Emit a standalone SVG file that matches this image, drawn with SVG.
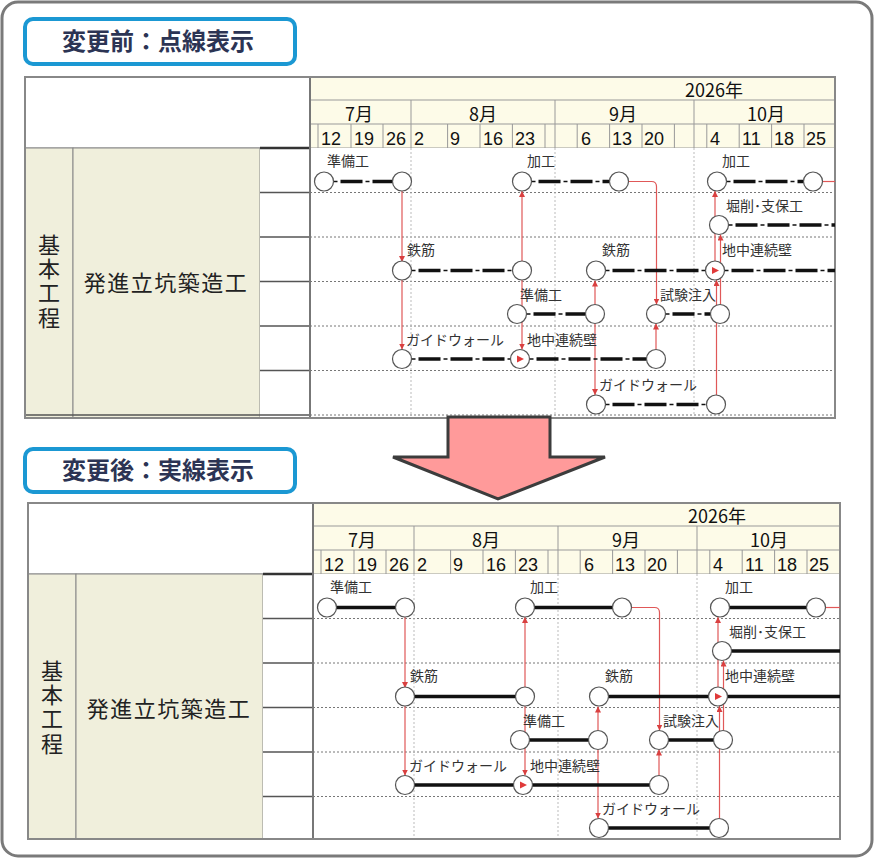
<svg xmlns="http://www.w3.org/2000/svg" width="875" height="859" viewBox="0 0 875 859">
<style>
.frame{fill:#fff;stroke:#7a7a7a;stroke-width:3}
.tag{fill:#fff;stroke:#1b98d3;stroke-width:4}
.tagtxt{font-family:"Noto Sans CJK JP","Noto Sans CJK SC",sans-serif;font-weight:bold;font-size:24px;fill:#2c3454;text-anchor:middle}
.hdr{fill:#fdfbe8;stroke:#999;stroke-width:1}
.gl{stroke:#999;stroke-width:1}
.num{font-family:"Liberation Sans",sans-serif;font-size:18px;fill:#111}
.mon{font-family:"Noto Sans CJK JP",sans-serif;font-size:18px;fill:#111;text-anchor:middle}
.side{fill:#f0efdc;stroke:#888;stroke-width:1}
.sidetxt{font-family:"Noto Sans CJK JP",sans-serif;font-size:22px;fill:#222;text-anchor:middle}
.vtxt{font-family:"Noto Sans CJK JP",sans-serif;font-size:22px;fill:#222;text-anchor:middle;writing-mode:vertical-rl;letter-spacing:2.3px}
.c3{stroke:#555;stroke-width:1.5}
.dotH{stroke:#777;stroke-width:1;stroke-dasharray:2 2}
.dotV{stroke:#bbb;stroke-width:1;stroke-dasharray:2 2}
.thk{stroke:#111;stroke-width:3.5;fill:none;stroke-dasharray:22 10;stroke-dashoffset:25}
.thn{stroke:#111;stroke-width:1.3;fill:none;stroke-dasharray:4 28}
.sol{stroke:#111;stroke-width:3.5;fill:none}
.ev{fill:#fff;stroke:#555;stroke-width:1.2}
.lbl{font-family:"Noto Sans CJK JP",sans-serif;font-size:14px;fill:#333}
.dep{stroke:#e05858;stroke-width:1.2;fill:none;marker-end:url(#ah)}
.dep0{stroke:#e05858;stroke-width:1.2;fill:none}
.tri{fill:#e03a3a}
.border{fill:none;stroke:#888;stroke-width:2}
</style>
<defs>
<marker id="ah" viewBox="0 0 10 10" refX="10" refY="5" markerWidth="6" markerHeight="6" markerUnits="userSpaceOnUse" orient="auto"><path d="M0,0 L10,5 L0,10 z" fill="#d94040"/></marker>
</defs>

<rect class="frame" x="2" y="2" width="870" height="854" rx="16"/>

<g id="tag-before">
<rect class="tag" x="25" y="19" width="270" height="45" rx="8"/>
<text class="tagtxt" x="158" y="50">変更前：点線表示</text>
</g>
<g id="tag-after">
<rect class="tag" x="25" y="449" width="270" height="43" rx="8"/>
<text class="tagtxt" x="158" y="479">変更後：実線表示</text>
</g>

<!-- ================= TOP CHART ================= -->
<g id="top-table">
<rect x="25" y="77" width="285" height="71" fill="#fff" stroke="#888"/>
<rect class="hdr" x="310" y="77" width="525" height="71"/>
<line class="gl" x1="310" y1="100" x2="835" y2="100"/>
<line class="gl" x1="310" y1="124" x2="835" y2="124"/>
<g class="gl">
<line x1="411" y1="100" x2="411" y2="148"/><line x1="555" y1="100" x2="555" y2="148"/><line x1="694" y1="100" x2="694" y2="148"/>
<line x1="318" y1="124" x2="318" y2="148"/><line x1="351" y1="124" x2="351" y2="148"/><line x1="383" y1="124" x2="383" y2="148"/>
<line x1="447.6" y1="124" x2="447.6" y2="148"/><line x1="480" y1="124" x2="480" y2="148"/><line x1="512.4" y1="124" x2="512.4" y2="148"/><line x1="545" y1="124" x2="545" y2="148"/>
<line x1="577.2" y1="124" x2="577.2" y2="148"/><line x1="609.6" y1="124" x2="609.6" y2="148"/><line x1="642" y1="124" x2="642" y2="148"/><line x1="674.4" y1="124" x2="674.4" y2="148"/>
<line x1="706.8" y1="124" x2="706.8" y2="148"/><line x1="739.2" y1="124" x2="739.2" y2="148"/><line x1="771.6" y1="124" x2="771.6" y2="148"/><line x1="804" y1="124" x2="804" y2="148"/>
</g>
<text class="mon" x="714" y="97">2026年</text>
<text class="mon" x="359" y="121">7月</text><text class="mon" x="483" y="121">8月</text><text class="mon" x="623" y="121">9月</text><text class="mon" x="766" y="121">10月</text>
<g class="num">
<text x="321" y="145">12</text><text x="354" y="145">19</text><text x="386" y="145">26</text><text x="414" y="145">2</text>
<text x="450" y="145">9</text><text x="483" y="145">16</text><text x="515" y="145">23</text><text x="581" y="145">6</text>
<text x="612" y="145">13</text><text x="644" y="145">20</text><text x="710" y="145">4</text><text x="742" y="145">11</text>
<text x="774" y="145">18</text><text x="806" y="145">25</text>
</g>
<rect class="side" x="25" y="148" width="48" height="270"/>
<rect class="side" x="73" y="148" width="187" height="270"/>
<rect x="260" y="148" width="50" height="270" fill="#fff"/>
<rect x="310" y="148" width="525" height="270" fill="#fff"/>
<g class="c3">
<line x1="260" y1="192.5" x2="310" y2="192.5"/><line x1="260" y1="237" x2="310" y2="237"/><line x1="260" y1="281.5" x2="310" y2="281.5"/>
<line x1="260" y1="326" x2="310" y2="326"/><line x1="260" y1="370.5" x2="310" y2="370.5"/><line x1="25" y1="415" x2="310" y2="415"/>
</g>
<line x1="260" y1="148" x2="310" y2="148" stroke="#333" stroke-width="2.5"/>
<g class="dotH">
<line x1="310" y1="192.5" x2="835" y2="192.5"/><line x1="310" y1="237" x2="835" y2="237"/><line x1="310" y1="281.5" x2="835" y2="281.5"/>
<line x1="310" y1="326" x2="835" y2="326"/><line x1="310" y1="370.5" x2="835" y2="370.5"/><line x1="310" y1="415" x2="835" y2="415"/>
</g>
<g class="dotV">
<line x1="411" y1="148" x2="411" y2="415"/><line x1="555" y1="148" x2="555" y2="415"/><line x1="694" y1="148" x2="694" y2="415"/>
</g>
<line x1="310" y1="77" x2="310" y2="418" stroke="#777" stroke-width="2"/>
<rect class="border" x="25" y="77" width="810" height="341"/>
<text class="vtxt" x="49" y="282">基本工程</text>
<text class="sidetxt" x="166" y="291" letter-spacing="1.5">発進立坑築造工</text>
</g>

<g id="top-connectors">
<path class="dep" d="M402,191 V262"/>
<path class="dep" d="M402,280 V349.5"/>
<path class="dep" d="M522,261 V191"/>
<path class="dep" d="M522,280 V349.5"/>
<path class="dep" d="M628.5,181.5 H651.5 Q656.5,181.5 656.5,186.5 V304.5"/>
<path class="dep" d="M656,349.5 V323.5"/>
<path class="dep" d="M595,304.5 V280.5"/>
<path class="dep" d="M595,323.5 V395"/>
<path class="dep" d="M715,261 V191"/>
<path class="dep" d="M720.5,304.5 V234.5"/>
<path class="dep" d="M716.5,395 V280"/>
<path class="dep0" d="M822.5,181.5 H835"/>
</g>

<g id="t-junbi1">
<path class="thk" d="M333.5,181.5 H392.5"/><path class="thn" d="M333.5,181.5 H392.5"/>
<circle class="ev" cx="324" cy="181.5" r="9.5"/><circle class="ev" cx="402" cy="181.5" r="9.5"/>
<text class="lbl" x="327" y="166">準備工</text>
</g>
<g id="t-kakou1">
<path class="thk" d="M531.5,181.5 H609.5"/><path class="thn" d="M531.5,181.5 H609.5"/>
<circle class="ev" cx="522" cy="181.5" r="9.5"/><circle class="ev" cx="619" cy="181.5" r="9.5"/>
<text class="lbl" x="527" y="166">加工</text>
</g>
<g id="t-kakou2">
<path class="thk" d="M726.5,181.5 H803.5"/><path class="thn" d="M726.5,181.5 H803.5"/>
<circle class="ev" cx="717" cy="181.5" r="9.5"/><circle class="ev" cx="813" cy="181.5" r="9.5"/>
<text class="lbl" x="722" y="166">加工</text>
</g>
<g id="t-kussaku">
<path class="thk" d="M728.5,225 H835"/><path class="thn" d="M728.5,225 H835"/>
<circle class="ev" cx="719" cy="225" r="9.5"/>
<text class="lbl" x="726" y="211">堀削･支保工</text>
</g>
<g id="t-tekkin1">
<path class="thk" d="M411.5,270.5 H512.5"/><path class="thn" d="M411.5,270.5 H512.5"/>
<circle class="ev" cx="402" cy="270.5" r="9.5"/><circle class="ev" cx="522" cy="270.5" r="9.5"/>
<text class="lbl" x="407" y="255">鉄筋</text>
</g>
<g id="t-tekkin2">
<path class="thk" d="M605.5,270.5 H705.5"/><path class="thn" d="M605.5,270.5 H705.5"/>
<circle class="ev" cx="596" cy="270.5" r="9.5"/>
<text class="lbl" x="602" y="255">鉄筋</text>
</g>
<g id="t-renzoku1">
<path class="thk" d="M724.5,270.5 H835"/><path class="thn" d="M724.5,270.5 H835"/>
<circle class="ev" cx="715" cy="270.5" r="9.5"/>
<path class="tri" d="M712,267 L719,270.5 L712,274 z"/>
<text class="lbl" x="722" y="255">地中連続壁</text>
</g>
<g id="t-junbi2">
<path class="thk" d="M526.5,314 H585.5"/><path class="thn" d="M526.5,314 H585.5"/>
<circle class="ev" cx="517" cy="314" r="9.5"/><circle class="ev" cx="595" cy="314" r="9.5"/>
<text class="lbl" x="520" y="300">準備工</text>
</g>
<g id="t-shiken">
<path class="thk" d="M665.5,314 H710.5"/><path class="thn" d="M665.5,314 H710.5"/>
<circle class="ev" cx="656" cy="314" r="9.5"/><circle class="ev" cx="720" cy="314" r="9.5"/>
<text class="lbl" x="660" y="300">試験注入</text>
</g>
<g id="t-guide1">
<path class="thk" d="M411.5,359 H510.5"/><path class="thn" d="M411.5,359 H510.5"/>
<circle class="ev" cx="402" cy="359" r="9.5"/>
<text class="lbl" x="406" y="345">ガイドウォール</text>
</g>
<g id="t-renzoku2">
<path class="thk" d="M529.5,359 H646.5"/><path class="thn" d="M529.5,359 H646.5"/>
<circle class="ev" cx="520" cy="359" r="9.5"/><circle class="ev" cx="656" cy="359" r="9.5"/>
<path class="tri" d="M517,355.5 L524,359 L517,362.5 z"/>
<text class="lbl" x="527" y="345">地中連続壁</text>
</g>
<g id="t-guide2">
<path class="thk" d="M605.5,404.5 H706.5"/><path class="thn" d="M605.5,404.5 H706.5"/>
<circle class="ev" cx="596" cy="404.5" r="9.5"/><circle class="ev" cx="716" cy="404.5" r="9.5"/>
<text class="lbl" x="599" y="390">ガイドウォール</text>
</g>

<!-- ================= BOTTOM CHART ================= -->
<g transform="translate(3,426)">
<g id="bottom-table">
<rect x="25" y="77" width="285" height="71" fill="#fff" stroke="#888"/>
<rect class="hdr" x="310" y="77" width="527" height="71"/>
<line class="gl" x1="310" y1="100" x2="837" y2="100"/>
<line class="gl" x1="310" y1="124" x2="837" y2="124"/>
<g class="gl">
<line x1="411" y1="100" x2="411" y2="148"/><line x1="555" y1="100" x2="555" y2="148"/><line x1="694" y1="100" x2="694" y2="148"/>
<line x1="318" y1="124" x2="318" y2="148"/><line x1="351" y1="124" x2="351" y2="148"/><line x1="383" y1="124" x2="383" y2="148"/>
<line x1="447.6" y1="124" x2="447.6" y2="148"/><line x1="480" y1="124" x2="480" y2="148"/><line x1="512.4" y1="124" x2="512.4" y2="148"/><line x1="545" y1="124" x2="545" y2="148"/>
<line x1="577.2" y1="124" x2="577.2" y2="148"/><line x1="609.6" y1="124" x2="609.6" y2="148"/><line x1="642" y1="124" x2="642" y2="148"/><line x1="674.4" y1="124" x2="674.4" y2="148"/>
<line x1="706.8" y1="124" x2="706.8" y2="148"/><line x1="739.2" y1="124" x2="739.2" y2="148"/><line x1="771.6" y1="124" x2="771.6" y2="148"/><line x1="804" y1="124" x2="804" y2="148"/>
</g>
<text class="mon" x="714" y="97">2026年</text>
<text class="mon" x="359" y="121">7月</text><text class="mon" x="483" y="121">8月</text><text class="mon" x="623" y="121">9月</text><text class="mon" x="766" y="121">10月</text>
<g class="num">
<text x="321" y="145">12</text><text x="354" y="145">19</text><text x="386" y="145">26</text><text x="414" y="145">2</text>
<text x="450" y="145">9</text><text x="483" y="145">16</text><text x="515" y="145">23</text><text x="581" y="145">6</text>
<text x="612" y="145">13</text><text x="644" y="145">20</text><text x="710" y="145">4</text><text x="742" y="145">11</text>
<text x="774" y="145">18</text><text x="806" y="145">25</text>
</g>
<rect class="side" x="25" y="148" width="48" height="265"/>
<rect class="side" x="73" y="148" width="187" height="265"/>
<rect x="260" y="148" width="50" height="265" fill="#fff"/>
<rect x="310" y="148" width="527" height="265" fill="#fff"/>
<g class="c3">
<line x1="260" y1="192.5" x2="310" y2="192.5"/><line x1="260" y1="237" x2="310" y2="237"/><line x1="260" y1="281.5" x2="310" y2="281.5"/>
<line x1="260" y1="326" x2="310" y2="326"/><line x1="260" y1="370.5" x2="310" y2="370.5"/>
</g>
<line x1="260" y1="148" x2="310" y2="148" stroke="#333" stroke-width="2.5"/>
<g class="dotH">
<line x1="310" y1="192.5" x2="837" y2="192.5"/><line x1="310" y1="237" x2="837" y2="237"/><line x1="310" y1="281.5" x2="837" y2="281.5"/>
<line x1="310" y1="326" x2="837" y2="326"/><line x1="310" y1="370.5" x2="837" y2="370.5"/>
</g>
<g class="dotV">
<line x1="411" y1="148" x2="411" y2="413"/><line x1="555" y1="148" x2="555" y2="413"/><line x1="694" y1="148" x2="694" y2="413"/>
</g>
<line x1="310" y1="77" x2="310" y2="413" stroke="#777" stroke-width="2"/>
<rect class="border" x="25" y="77" width="812" height="336"/>
<text class="vtxt" x="49" y="282">基本工程</text>
<text class="sidetxt" x="166" y="291" letter-spacing="1.5">発進立坑築造工</text>
</g>

<g id="bottom-connectors">
<path class="dep" d="M402,191 V262"/>
<path class="dep" d="M402,280 V349.5"/>
<path class="dep" d="M522,261 V191"/>
<path class="dep" d="M522,280 V349.5"/>
<path class="dep" d="M628.5,181.5 H651.5 Q656.5,181.5 656.5,186.5 V304.5"/>
<path class="dep" d="M656,349.5 V323.5"/>
<path class="dep" d="M595,304.5 V280.5"/>
<path class="dep" d="M595,323.5 V392.5"/>
<path class="dep" d="M715,261 V191"/>
<path class="dep" d="M720.5,304.5 V234.5"/>
<path class="dep" d="M716.5,392.5 V280"/>
<path class="dep0" d="M822.5,181.5 H837"/>
</g>

<g id="b-junbi1">
<path class="sol" d="M324,181.5 H402"/>
<circle class="ev" cx="324" cy="181.5" r="9.5"/><circle class="ev" cx="402" cy="181.5" r="9.5"/>
<text class="lbl" x="327" y="166">準備工</text>
</g>
<g id="b-kakou1">
<path class="sol" d="M522,181.5 H619"/>
<circle class="ev" cx="522" cy="181.5" r="9.5"/><circle class="ev" cx="619" cy="181.5" r="9.5"/>
<text class="lbl" x="527" y="166">加工</text>
</g>
<g id="b-kakou2">
<path class="sol" d="M717,181.5 H813"/>
<circle class="ev" cx="717" cy="181.5" r="9.5"/><circle class="ev" cx="813" cy="181.5" r="9.5"/>
<text class="lbl" x="722" y="166">加工</text>
</g>
<g id="b-kussaku">
<path class="sol" d="M719,225 H837"/>
<circle class="ev" cx="719" cy="225" r="9.5"/>
<text class="lbl" x="726" y="211">堀削･支保工</text>
</g>
<g id="b-tekkin1">
<path class="sol" d="M402,270.5 H522"/>
<circle class="ev" cx="402" cy="270.5" r="9.5"/><circle class="ev" cx="522" cy="270.5" r="9.5"/>
<text class="lbl" x="407" y="255">鉄筋</text>
</g>
<g id="b-tekkin2">
<path class="sol" d="M596,270.5 H715"/>
<circle class="ev" cx="596" cy="270.5" r="9.5"/>
<text class="lbl" x="602" y="255">鉄筋</text>
</g>
<g id="b-renzoku1">
<path class="sol" d="M715,270.5 H837"/>
<circle class="ev" cx="715" cy="270.5" r="9.5"/>
<path class="tri" d="M712,267 L719,270.5 L712,274 z"/>
<text class="lbl" x="722" y="255">地中連続壁</text>
</g>
<g id="b-junbi2">
<path class="sol" d="M517,314 H595"/>
<circle class="ev" cx="517" cy="314" r="9.5"/><circle class="ev" cx="595" cy="314" r="9.5"/>
<text class="lbl" x="520" y="300">準備工</text>
</g>
<g id="b-shiken">
<path class="sol" d="M656,314 H720"/>
<circle class="ev" cx="656" cy="314" r="9.5"/><circle class="ev" cx="720" cy="314" r="9.5"/>
<text class="lbl" x="660" y="300">試験注入</text>
</g>
<g id="b-guide1">
<path class="sol" d="M402,359 H520"/>
<circle class="ev" cx="402" cy="359" r="9.5"/>
<text class="lbl" x="406" y="345">ガイドウォール</text>
</g>
<g id="b-renzoku2">
<path class="sol" d="M520,359 H656"/>
<circle class="ev" cx="520" cy="359" r="9.5"/><circle class="ev" cx="656" cy="359" r="9.5"/>
<path class="tri" d="M517,355.5 L524,359 L517,362.5 z"/>
<text class="lbl" x="527" y="345">地中連続壁</text>
</g>
<g id="b-guide2">
<path class="sol" d="M596,402 H716"/>
<circle class="ev" cx="596" cy="402" r="9.5"/><circle class="ev" cx="716" cy="402" r="9.5"/>
<text class="lbl" x="599" y="388">ガイドウォール</text>
</g>
</g>

<g id="down-arrow">
<polygon points="448,417 550,417 550,457 605,457 498,499 393,457 448,457" fill="#ff9a9a" stroke="#3c3c3c" stroke-width="3" stroke-linejoin="miter"/>
</g>
</svg>
